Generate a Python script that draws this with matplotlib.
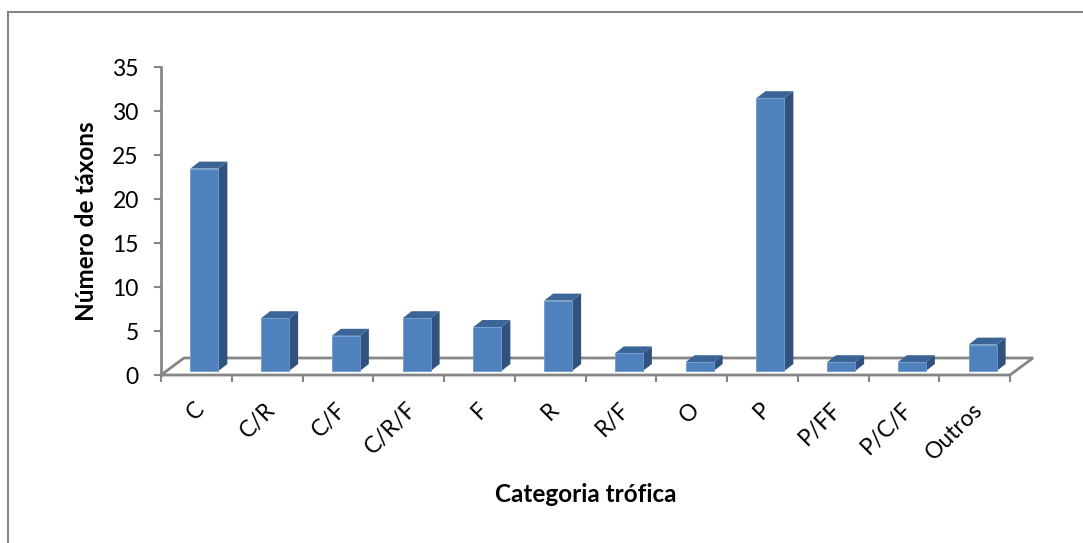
import matplotlib.pyplot as plt
import numpy as np
from matplotlib.patches import Polygon

categorias = ['C', 'C/R', 'C/F', 'C/R/F', 'F', 'R', 'R/F', 'O', 'P', 'P/FF', 'P/C/F', 'Outros']
n_taxons = [23, 6, 4, 6, 5, 8, 2, 1, 31, 1, 1, 3]
y_ticks = [0, 5, 10, 15, 20, 25, 30, 35]

plt.rcParams['font.family'] = ['Lato', 'DejaVu Sans']

W, H = 1083, 543
fig = plt.figure(figsize=(W / 100, H / 100), dpi=100)
fig.patch.set_facecolor('white')

# pixel box of the value axis / floor front edge
x0, x1, y0, y1 = 161, 1010, 375, 67
ax = fig.add_axes([x0 / W, (H - y0) / H, (x1 - x0) / W, (y0 - y1) / H])
ax.set_xlim(0, len(categorias))
ax.set_ylim(0, 35)
ax.patch.set_alpha(0)

px_x = (x1 - x0) / len(categorias)   # pixels per category
px_y = (y0 - y1) / 35.0              # pixels per unit

grey = '#868686'
frente, lado, topo = '#4F81BD', '#31527F', '#3C6597'

# floor of the 3D plot
fdx, fdy = 23 / px_x, 17 / px_y
n = len(categorias)
chao = Polygon([(0, 0), (n, 0), (n + fdx, fdy), (fdx, fdy)], closed=True,
               facecolor='white', edgecolor=grey, lw=2, clip_on=False, zorder=1)
ax.add_patch(chao)

# bars: front face, side, top
bw = 28 / px_x
ox, oy = 8 / px_x, 4 / px_y
ddx, ddy = 9 / px_x, 7 / px_y
for i, v in enumerate(n_taxons):
    xl = i + 0.5 - bw / 2 + ox
    xr = xl + bw
    yb, yt = oy, v + oy
    ax.add_patch(Polygon([(xr, yb), (xr + ddx, yb + ddy), (xr + ddx, yt + ddy), (xr, yt)],
                         facecolor=lado, edgecolor='none', clip_on=False, zorder=3))
    ax.add_patch(Polygon([(xl, yt), (xr, yt), (xr + ddx, yt + ddy), (xl + ddx, yt + ddy)],
                         facecolor=topo, edgecolor='none', clip_on=False, zorder=3))
    ax.add_patch(Polygon([(xl, yb), (xr, yb), (xr, yt), (xl, yt)],
                         facecolor=frente, edgecolor='#6F9AD0', lw=0.6, clip_on=False, zorder=4))

for s in ['top', 'right']:
    ax.spines[s].set_visible(False)
ax.spines['left'].set_color(grey)
ax.spines['left'].set_linewidth(2)
ax.spines['bottom'].set_visible(False)

ax.set_yticks(y_ticks)
ax.tick_params(axis='y', colors=grey, width=1.5, length=5, labelsize=16.5,
               labelcolor='black', pad=11)
ax.set_xticks(np.arange(n + 1))
ax.set_xticklabels([])
ax.tick_params(axis='x', colors=grey, width=1.5, length=5, direction='out')

for i, c in enumerate(categorias):
    ax.text(i + 0.5 + 5 / px_x, -31 / px_y, c, rotation=45, rotation_mode='anchor',
            ha='right', va='center', fontsize=16.5, clip_on=False)

ax.set_ylabel('Número de táxons', fontsize=17.5, fontweight='bold')
ax.yaxis.set_label_coords((87 - x0) / (x1 - x0), 0.5)
ax.yaxis.label.set_va('center')
ax.set_xlabel('Categoria trófica', fontsize=17.5, fontweight='bold')
ax.xaxis.set_label_coords(0.5, (y0 - 495) / (y0 - y1))
ax.xaxis.label.set_va('center')

# outer chart border
fig.add_artist(plt.Line2D([8 / W, 1], [1 - 12 / H, 1 - 12 / H], color=grey, lw=1.5))
fig.add_artist(plt.Line2D([8 / W, 8 / W], [0, 1 - 12 / H], color=grey, lw=1.5))

plt.savefig('out.png', dpi=100)
